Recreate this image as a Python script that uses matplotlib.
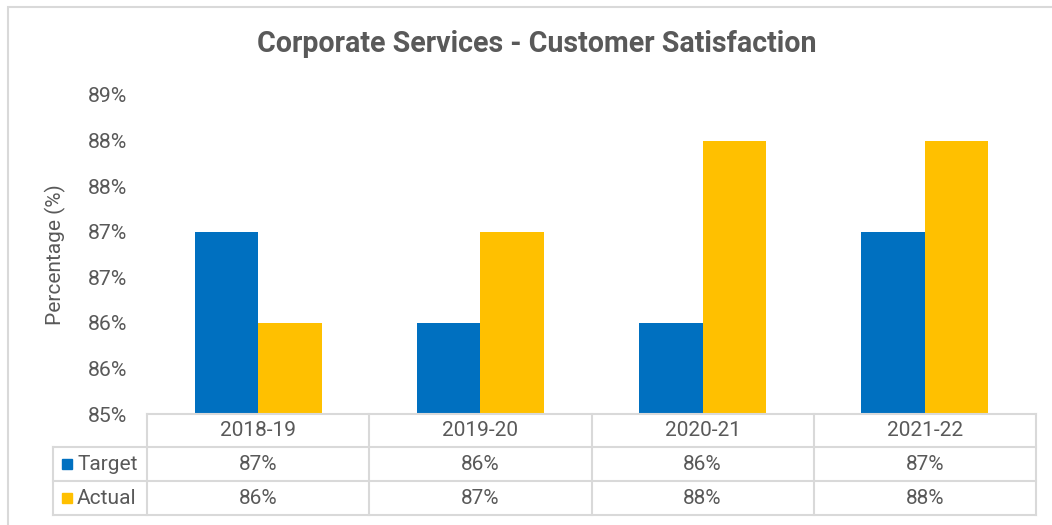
import matplotlib
matplotlib.use("Agg")
import matplotlib.pyplot as plt
from matplotlib.patches import Rectangle
from matplotlib.lines import Line2D
import numpy as np
import math

categories = ["2018-19", "2019-20", "2020-21", "2021-22"]
target = [87, 86, 86, 87]
actual = [86, 87, 88, 88]
series_names = ["Target", "Actual"]
colors = ["#0070C0", "#FFC000"]
yticks = [85, 85.5, 86, 86.5, 87, 87.5, 88, 88.5]

plt.rcParams['font.family'] = ['Roboto', 'DejaVu Sans']
TXT = "#595959"
GRID = "#D9D9D9"

def pct(v):
    return f"{int(math.floor(v + 0.5))}%"

W, H = 1052, 525
fig = plt.figure(figsize=(W/100, H/100), dpi=100)

def fx(px): return px / W
def fy(py): return 1 - py / H

# figure border
fig.patches.append(Rectangle((fx(8), fy(530)), fx(1060) - fx(8), fy(7) - fy(530),
                             transform=fig.transFigure, fill=False, edgecolor=GRID, lw=1.5))

L, R, T, B = 147, 1036, 95, 414
ax = fig.add_axes([fx(L), fy(B), fx(R) - fx(L), fy(T) - fy(B)])
x = np.arange(len(categories))
bw = 0.286
ax.bar(x - bw/2, target, bw, color=colors[0])
ax.bar(x + bw/2, actual, bw, color=colors[1])
ax.set_xlim(-0.5, len(categories) - 0.5)
ax.set_ylim(85, 88.5)
ax.set_yticks(yticks)
ax.set_yticklabels([pct(v) for v in yticks], color=TXT, fontsize=15.3)
ax.tick_params(axis='y', length=0, pad=14.4)
ax.set_xticks([])
for s in ax.spines.values():
    s.set_visible(False)

fig.text(fx(55), fy(255), "Percentage (%)", rotation=90, ha='center', va='center',
         fontsize=15, color=TXT)

fig.text(fx(537), fy(44), "Corporate Services - Customer Satisfaction", ha='center', va='center',
         fontsize=20.6, fontweight='bold', color=TXT)

# data table
col_edges = np.linspace(L, R, len(categories) + 1)
rows = [414, 447, 481, 515]
lw = 1.5
def hline(y, x0, x1):
    fig.add_artist(Line2D([fx(x0), fx(x1)], [fy(y), fy(y)], transform=fig.transFigure, color=GRID, lw=lw))
def vline(xp, y0, y1):
    fig.add_artist(Line2D([fx(xp), fx(xp)], [fy(y0), fy(y1)], transform=fig.transFigure, color=GRID, lw=lw))

hline(rows[0], L, R)
for y in rows[1:]:
    hline(y, 53, R)
for xp in col_edges:
    vline(xp, rows[0], rows[3])
vline(53, rows[1], rows[3])

for i, c in enumerate(categories):
    cx = (col_edges[i] + col_edges[i+1]) / 2
    fig.text(fx(cx), fy((rows[0] + rows[1]) / 2), c, ha='center', va='center', fontsize=15, color=TXT)
    fig.text(fx(cx), fy((rows[1] + rows[2]) / 2), pct(target[i]), ha='center', va='center', fontsize=15, color=TXT)
    fig.text(fx(cx), fy((rows[2] + rows[3]) / 2), pct(actual[i]), ha='center', va='center', fontsize=15, color=TXT)

for j, (name, col) in enumerate(zip(series_names, colors)):
    yc = (rows[j+1] + rows[j+2]) / 2
    fig.patches.append(Rectangle((fx(62), fy(yc + 5)), fx(72) - fx(62), fy(yc - 5) - fy(yc + 5),
                                 transform=fig.transFigure, color=col))
    fig.text(fx(77), fy(yc), name, ha='left', va='center', fontsize=15, color=TXT)

fig.savefig("out.png", dpi=100)
